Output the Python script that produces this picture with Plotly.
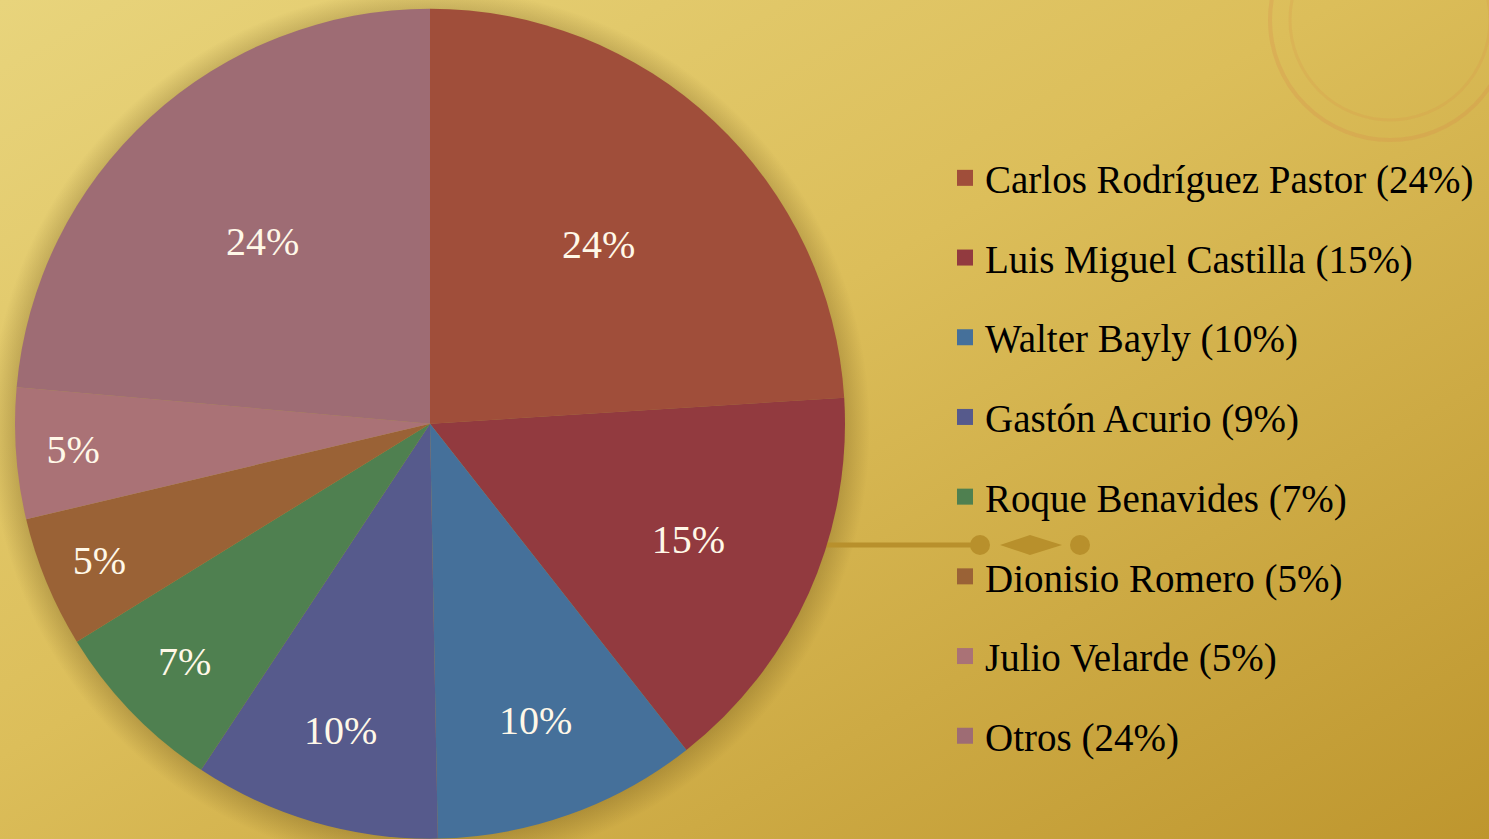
import plotly.graph_objects as go
import urllib.parse

labels = ["Carlos Rodríguez Pastor", "Luis Miguel Castilla", "Walter Bayly", "Gastón Acurio",
          "Roque Benavides", "Dionisio Romero", "Julio Velarde", "Otros"]
values = [24.0, 15.4, 10.3, 9.6, 6.9, 5.1, 5.1, 23.6]
legend_pct = ["24%", "15%", "10%", "9%", "7%", "5%", "5%", "24%"]
colors = ["#A04E3A", "#923A3F", "#45709A", "#565A8C", "#4F8050", "#9A6236", "#AA7276", "#9E6C74"]

FONT = "Liberation Serif"
W, H = 1489, 839

fig = go.Figure()

# background gradient via SVG data URI
svg = (
    f'<svg xmlns="http://www.w3.org/2000/svg" width="{W}" height="{H}">'
    '<defs><linearGradient id="g" x1="0" y1="0" x2="1" y2="1">'
    '<stop offset="0" stop-color="#E8D47C"/>'
    '<stop offset="0.45" stop-color="#DCBE5A"/>'
    '<stop offset="1" stop-color="#BE962E"/>'
    '</linearGradient>'
    '<radialGradient id="s" cx="0.5" cy="0.5" r="0.5">'
    '<stop offset="0.93" stop-color="#5a4210" stop-opacity="0.3"/>'
    '<stop offset="1" stop-color="#5a4210" stop-opacity="0"/>'
    '</radialGradient></defs>'
    f'<rect width="{W}" height="{H}" fill="url(#g)"/>'
    '<circle cx="1390" cy="20" r="120" fill="none" stroke="#D9884A" stroke-opacity="0.25" stroke-width="4"/>'
    '<circle cx="1390" cy="20" r="100" fill="none" stroke="#D9884A" stroke-opacity="0.18" stroke-width="3"/>'
    '<circle cx="430" cy="428" r="440" fill="url(#s)"/>'
    '</svg>'
)
src = "data:image/svg+xml;charset=utf-8," + urllib.parse.quote(svg)
fig.add_layout_image(dict(source=src, xref="paper", yref="paper", x=0, y=1, sizex=1, sizey=1,
                          xanchor="left", yanchor="top", sizing="stretch", layer="below"))

fig.add_trace(go.Pie(
    labels=labels, values=values, sort=False, direction="clockwise", rotation=0,
    marker=dict(colors=colors, line=dict(width=0)),
    texttemplate="%{percent:.0%}", textposition="inside", insidetextorientation="horizontal",
    textfont=dict(family=FONT, size=40, color="#FFF8E8"),
    domain=dict(x=[15/W, 845/W], y=[0, 0.99]),
    showlegend=False, hoverinfo="label+percent",
))

for lab, pct, col in zip(labels, legend_pct, colors):
    fig.add_trace(go.Scatter(
        x=[None], y=[None], mode="markers", name=f"{lab} ({pct})", legendgroup=lab,
        marker=dict(symbol="square", size=20, color=col),
    ))

# decorative divider
dec = "#B8902C"
fig.add_shape(type="line", xref="paper", yref="paper", x0=820/W, x1=975/W, y0=1-545/H, y1=1-545/H,
              line=dict(color=dec, width=5), layer="below")
for cx in (980, 1080):
    fig.add_shape(type="circle", xref="paper", yref="paper", x0=(cx-10)/W, x1=(cx+10)/W,
                  y0=1-(545+10)/H, y1=1-(545-10)/H, fillcolor=dec, line=dict(width=0), layer="below")
fig.add_shape(type="path", xref="paper", yref="paper",
              path=f"M {1000/W},{1-545/H} L {1030/W},{1-535/H} L {1062/W},{1-545/H} L {1030/W},{1-555/H} Z",
              fillcolor=dec, line=dict(width=0), layer="below")

fig.update_layout(
    width=W, height=H,
    margin=dict(l=0, r=0, t=0, b=0),
    paper_bgcolor="#DCBE5A", plot_bgcolor="rgba(0,0,0,0)",
    xaxis=dict(visible=False), yaxis=dict(visible=False),
    legend=dict(x=945/W, xanchor="left", y=1-146/H, yanchor="top",
                font=dict(family=FONT, size=39, color="#000000"),
                bgcolor="rgba(0,0,0,0)", tracegroupgap=26),
    font=dict(family=FONT),
)

fig.write_html("out.html", config={"displayModeBar": False},
               post_script="document.body.style.margin='0';document.body.style.overflow='hidden';")
